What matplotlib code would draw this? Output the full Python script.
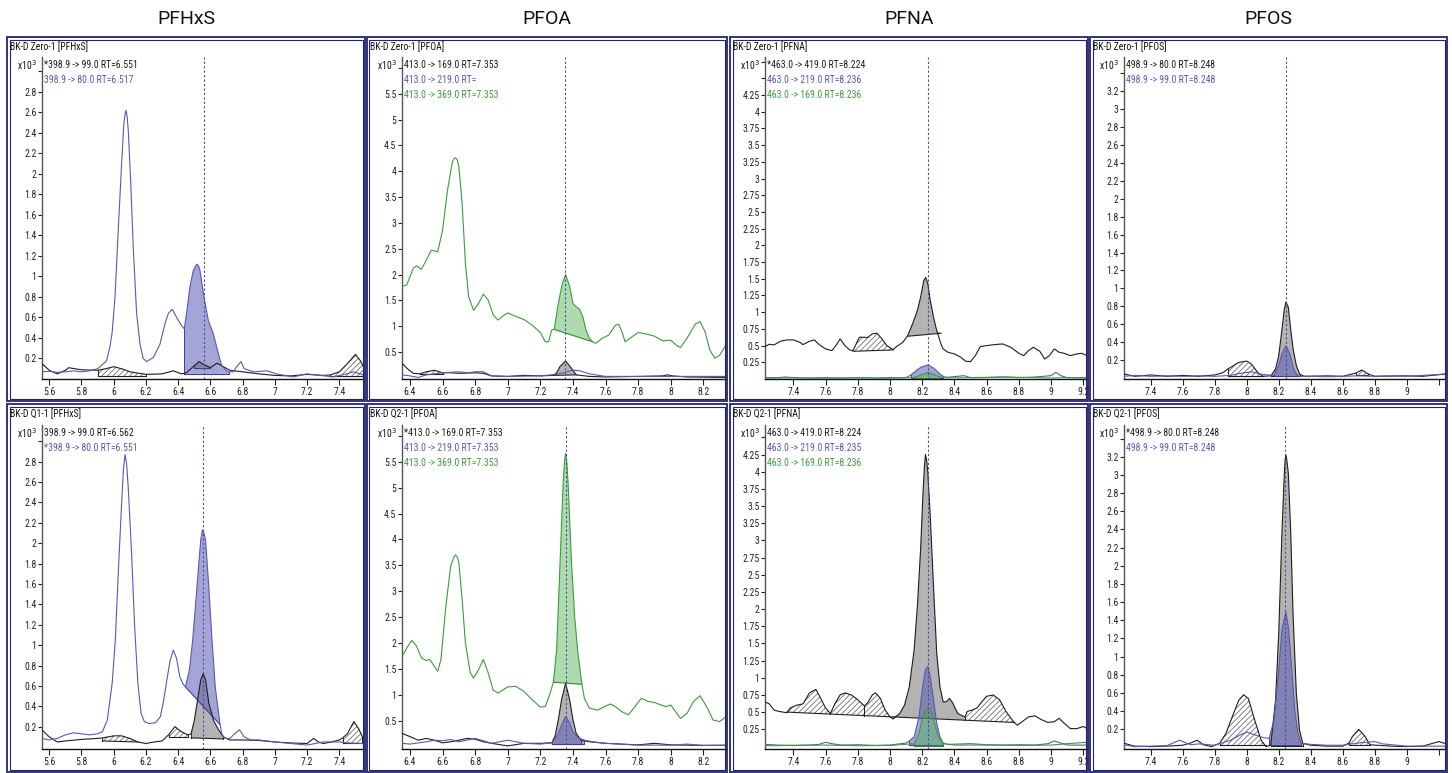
import numpy as np
import matplotlib
matplotlib.use("Agg")
import matplotlib.pyplot as plt
from matplotlib import font_manager
from matplotlib.patches import Rectangle

W, H = 1452, 773
plt.rcParams['hatch.linewidth'] = 0.6


def has_font(name):
    try:
        font_manager.findfont(font_manager.FontProperties(family=name), fallback_to_default=False)
        return True
    except Exception:
        return False


# the instrument software uses a condensed face; take the narrowest one available
if has_font('Liberation Sans Narrow'):
    SMALL, SMALL_SIZE = ['Liberation Sans Narrow', 'DejaVu Sans'], 6.9
elif has_font('Roboto Condensed'):
    SMALL, SMALL_SIZE = ['Roboto Condensed', 'DejaVu Sans'], 7.0
else:
    SMALL, SMALL_SIZE = ['Liberation Sans', 'DejaVu Sans'], 6.4

# ---------------- data (x = min, y = x10^3 counts)
compounds = ["PFHxS", "PFOA", "PFNA", "PFOS"]

# PFHxS, BK-D Zero-1
pfhxs_zero_99_x = [5.555, 5.6, 5.65, 5.7, 5.72, 5.8, 5.9, 5.95, 6.0, 6.05, 6.1, 6.2, 6.3, 6.37, 6.42, 6.45, 6.5, 6.53, 6.56, 6.6, 6.64, 6.67, 6.72, 6.8, 6.9, 7.0, 7.1, 7.2, 7.3, 7.345, 7.4, 7.45, 7.5, 7.53, 7.56]
pfhxs_zero_99_y = [0.15, 0.085, 0.05, 0.085, 0.11, 0.09, 0.085, 0.1, 0.12, 0.1, 0.07, 0.045, 0.05, 0.08, 0.05, 0.06, 0.13, 0.17, 0.14, 0.11, 0.155, 0.13, 0.085, 0.07, 0.05, 0.035, 0.03, 0.045, 0.035, 0.04, 0.07, 0.15, 0.24, 0.18, 0.085]
pfhxs_zero_80_x = [5.555, 5.6, 5.65, 5.7, 5.75, 5.8, 5.85, 5.9, 5.93, 5.956, 5.975, 5.99, 6.008, 6.028, 6.049, 6.063, 6.07, 6.076, 6.083, 6.09, 6.105, 6.121, 6.142, 6.163, 6.183, 6.204, 6.246, 6.287, 6.318, 6.339, 6.364, 6.39, 6.421, 6.438, 6.452, 6.473, 6.494, 6.507, 6.517, 6.527, 6.535, 6.56, 6.587, 6.618, 6.649, 6.67, 6.70, 6.717, 6.742, 6.763, 6.79, 6.81, 6.866, 6.95, 7.01, 7.114, 7.197, 7.28, 7.36, 7.445, 7.487, 7.56]
pfhxs_zero_80_y = [0.07, 0.075, 0.065, 0.07, 0.08, 0.07, 0.08, 0.1, 0.14, 0.18, 0.3, 0.45, 0.8, 1.45, 2.1, 2.49, 2.58, 2.62, 2.56, 2.43, 1.94, 1.29, 0.64, 0.34, 0.2, 0.17, 0.21, 0.34, 0.54, 0.64, 0.68, 0.6, 0.52, 0.49, 0.64, 0.9, 1.06, 1.1, 1.12, 1.1, 1.06, 0.8, 0.57, 0.44, 0.25, 0.13, 0.08, 0.07, 0.07, 0.12, 0.17, 0.1, 0.07, 0.08, 0.05, 0.02, 0.05, 0.035, 0.02, 0.05, 0.07, 0.035]
pfhxs_zero_areas = [("k", 5.9, 6.2, 0.03, 0.03, "hatch"), ("b", 6.438, 6.717, 0.05, 0.05, "fill"),
                    ("k", 6.5, 6.6, 0.11, 0.11, "fill"), ("k", 7.345, 7.56, 0.03, 0.03, "hatch")]

# PFOA, BK-D Zero-1
pfoa_zero_169_x = [6.353, 6.38, 6.42, 6.46, 6.5, 6.55, 6.6, 6.65, 6.7, 6.8, 6.85, 6.9, 7.0, 7.1, 7.2, 7.28, 7.3, 7.32, 7.355, 7.39, 7.42, 7.5, 7.6, 7.8, 7.95, 7.98, 8.01, 8.1, 8.345]
pfoa_zero_169_y = [0.28, 0.19, 0.09, 0.08, 0.12, 0.15, 0.1, 0.1, 0.09, 0.1, 0.09, 0.04, 0.03, 0.05, 0.04, 0.05, 0.1, 0.22, 0.33, 0.19, 0.06, 0.03, 0.02, 0.03, 0.04, 0.06, 0.04, 0.02, 0.01]
pfoa_zero_219_x = [6.353, 6.4, 6.45, 6.5, 6.6, 6.7, 6.75, 6.8, 6.85, 6.9, 7.0, 7.2, 7.3, 7.4, 7.44, 7.5, 7.6, 8.0, 8.345]
pfoa_zero_219_y = [0.06, 0.04, 0.01, 0.06, 0.1, 0.12, 0.1, 0.12, 0.12, 0.04, 0.03, 0.04, 0.07, 0.15, 0.14, 0.08, 0.03, 0.03, 0.03]
pfoa_zero_369_x = [6.353, 6.38, 6.42, 6.44, 6.47, 6.5, 6.53, 6.55, 6.57, 6.6, 6.63, 6.66, 6.67, 6.68, 6.69, 6.7, 6.72, 6.74, 6.76, 6.79, 6.82, 6.85, 6.88, 6.91, 6.94, 6.97, 7.0, 7.05, 7.1, 7.15, 7.2, 7.23, 7.25, 7.27, 7.285, 7.31, 7.335, 7.355, 7.38, 7.4, 7.42, 7.44, 7.46, 7.48, 7.5, 7.52, 7.54, 7.58, 7.62, 7.66, 7.68, 7.7, 7.72, 7.75, 7.8, 7.85, 7.9, 7.95, 8.0, 8.04, 8.06, 8.1, 8.15, 8.18, 8.21, 8.24, 8.27, 8.3, 8.345]
pfoa_zero_369_y = [1.77, 1.8, 2.12, 2.17, 2.1, 2.28, 2.47, 2.46, 2.44, 2.86, 3.63, 4.18, 4.24, 4.26, 4.22, 4.09, 3.38, 2.22, 1.57, 1.31, 1.44, 1.62, 1.51, 1.22, 1.12, 1.2, 1.26, 1.19, 1.13, 1.02, 0.88, 0.7, 0.7, 0.93, 0.94, 1.44, 1.83, 2.0, 1.77, 1.44, 1.38, 1.33, 1.19, 0.93, 0.77, 0.7, 0.67, 0.77, 0.83, 1.02, 1.04, 0.9, 0.7, 0.77, 0.88, 0.85, 0.81, 0.72, 0.73, 0.62, 0.59, 0.77, 1.04, 1.09, 0.9, 0.54, 0.38, 0.44, 0.67]
pfoa_zero_areas = [("k", 6.46, 6.6, 0.08, 0.08, "hatch"), ("k", 7.28, 7.42, 0.05, 0.06, "fill"),
                   ("g", 7.285, 7.52, 0.94, 0.70, "fill")]

# PFNA, BK-D Zero-1
pfna_zero_419_x = [7.224, 7.25, 7.28, 7.32, 7.36, 7.4, 7.44, 7.46, 7.5, 7.53, 7.56, 7.6, 7.64, 7.67, 7.69, 7.72, 7.75, 7.77, 7.81, 7.84, 7.86, 7.89, 7.92, 7.95, 7.98, 8.02, 8.04, 8.08, 8.11, 8.14, 8.17, 8.19, 8.21, 8.222, 8.235, 8.25, 8.27, 8.29, 8.317, 8.33, 8.36, 8.4, 8.44, 8.47, 8.5, 8.53, 8.56, 8.6, 8.65, 8.7, 8.75, 8.8, 8.83, 8.86, 8.89, 8.93, 8.96, 8.99, 9.02, 9.05, 9.08, 9.12, 9.16, 9.19, 9.223]
pfna_zero_419_y = [0.485, 0.52, 0.51, 0.565, 0.585, 0.585, 0.55, 0.515, 0.565, 0.585, 0.515, 0.45, 0.425, 0.52, 0.6, 0.5, 0.435, 0.425, 0.625, 0.625, 0.62, 0.675, 0.685, 0.6, 0.5, 0.44, 0.485, 0.55, 0.65, 0.825, 1.025, 1.225, 1.475, 1.52, 1.425, 1.175, 0.925, 0.725, 0.52, 0.45, 0.4, 0.375, 0.325, 0.265, 0.26, 0.35, 0.485, 0.5, 0.515, 0.525, 0.475, 0.385, 0.35, 0.425, 0.475, 0.415, 0.3, 0.35, 0.45, 0.4, 0.385, 0.35, 0.375, 0.385, 0.35]
pfna_zero_219_x = [7.224, 7.3, 7.35, 7.4, 7.5, 7.6, 7.7, 7.8, 7.9, 8.0, 8.1, 8.13, 8.15, 8.19, 8.235, 8.27, 8.31, 8.33, 8.35, 8.42, 8.46, 8.5, 8.6, 8.7, 8.8, 8.9, 9.0, 9.03, 9.06, 9.1, 9.223]
pfna_zero_219_y = [0.02, 0.02, 0.03, 0.02, 0.015, 0.02, 0.015, 0.02, 0.015, 0.02, 0.02, 0.06, 0.1, 0.175, 0.21, 0.165, 0.075, 0.04, 0.025, 0.04, 0.05, 0.02, 0.02, 0.03, 0.02, 0.03, 0.05, 0.1, 0.05, 0.02, 0.02]
pfna_zero_169_x = [7.224, 7.4, 7.6, 7.8, 8.0, 8.15, 8.19, 8.236, 8.27, 8.31, 8.35, 8.5, 8.7, 8.9, 9.0, 9.1, 9.223]
pfna_zero_169_y = [0.01, 0.015, 0.01, 0.015, 0.01, 0.02, 0.06, 0.1, 0.07, 0.03, 0.015, 0.02, 0.03, 0.02, 0.015, 0.02, 0.015]
pfna_zero_areas = [("k", 7.77, 8.02, 0.415, 0.435, "hatch"), ("k", 8.11, 8.317, 0.64, 0.685, "fill"),
                   ("b", 8.13, 8.33, 0.02, 0.02, "fill"), ("g", 8.15, 8.31, 0.01, 0.01, "fill")]

# PFOS, BK-D Zero-1
pfos_zero_80_x = [7.235, 7.3, 7.4, 7.5, 7.6, 7.7, 7.8, 7.85, 7.88, 7.9, 7.95, 8.0, 8.03, 8.07, 8.1, 8.15, 8.18, 8.2, 8.22, 8.235, 8.245, 8.26, 8.275, 8.29, 8.31, 8.33, 8.36, 8.5, 8.6, 8.68, 8.72, 8.76, 8.8, 9.0, 9.1, 9.24]
pfos_zero_80_y = [0.045, 0.02, 0.035, 0.02, 0.03, 0.02, 0.035, 0.06, 0.1, 0.12, 0.175, 0.19, 0.155, 0.06, 0.02, 0.025, 0.1, 0.25, 0.54, 0.77, 0.85, 0.79, 0.54, 0.32, 0.14, 0.045, 0.02, 0.025, 0.02, 0.055, 0.09, 0.045, 0.02, 0.025, 0.02, 0.045]
pfos_zero_99_x = [7.235, 7.3, 7.4, 7.5, 7.6, 7.7, 7.8, 7.9, 7.95, 8.03, 8.1, 8.17, 8.2, 8.22, 8.245, 8.27, 8.29, 8.31, 8.33, 8.4, 8.5, 8.6, 8.7, 8.8, 8.9, 9.0, 9.1, 9.24]
pfos_zero_99_y = [0.02, 0.03, 0.02, 0.025, 0.02, 0.025, 0.02, 0.03, 0.05, 0.07, 0.04, 0.03, 0.14, 0.27, 0.36, 0.27, 0.12, 0.045, 0.02, 0.02, 0.015, 0.02, 0.025, 0.02, 0.025, 0.02, 0.03, 0.045]
pfos_zero_areas = [("k", 7.88, 8.1, 0.02, 0.02, "hatch"), ("k", 8.15, 8.33, 0.025, 0.025, "fill"),
                   ("b", 8.17, 8.33, 0.02, 0.02, "fill"), ("k", 8.68, 8.76, 0.03, 0.03, "hatch")]

# PFHxS, BK-D Q1-1
pfhxs_q1_99_x = [5.553, 5.6, 5.65, 5.7, 5.8, 5.9, 5.93, 6.0, 6.05, 6.1, 6.15, 6.2, 6.25, 6.3, 6.34, 6.38, 6.42, 6.46, 6.48, 6.5, 6.52, 6.54, 6.555, 6.57, 6.59, 6.62, 6.65, 6.68, 6.72, 6.8, 6.9, 7.0, 7.1, 7.2, 7.24, 7.27, 7.3, 7.35, 7.4, 7.42, 7.45, 7.49, 7.52, 7.543]
pfhxs_q1_99_y = [0.17, 0.1, 0.05, 0.06, 0.075, 0.085, 0.09, 0.11, 0.11, 0.085, 0.05, 0.035, 0.05, 0.06, 0.12, 0.2, 0.15, 0.12, 0.13, 0.26, 0.46, 0.66, 0.72, 0.66, 0.43, 0.26, 0.17, 0.1, 0.07, 0.07, 0.065, 0.05, 0.04, 0.035, 0.085, 0.05, 0.035, 0.05, 0.07, 0.09, 0.13, 0.25, 0.18, 0.1]
pfhxs_q1_80_x = [5.553, 5.6, 5.65, 5.7, 5.75, 5.8, 5.85, 5.9, 5.93, 5.96, 5.99, 6.01, 6.03, 6.05, 6.06, 6.07, 6.08, 6.09, 6.11, 6.13, 6.15, 6.17, 6.19, 6.22, 6.26, 6.29, 6.31, 6.33, 6.35, 6.37, 6.39, 6.41, 6.43, 6.445, 6.47, 6.49, 6.51, 6.53, 6.54, 6.55, 6.56, 6.57, 6.59, 6.61, 6.63, 6.66, 6.67, 6.69, 6.72, 6.75, 6.78, 6.81, 6.85, 6.9, 7.0, 7.1, 7.2, 7.3, 7.4, 7.45, 7.543]
pfhxs_q1_80_y = [0.085, 0.07, 0.085, 0.12, 0.14, 0.13, 0.12, 0.13, 0.15, 0.265, 0.62, 1.05, 1.77, 2.42, 2.72, 2.87, 2.78, 2.55, 1.93, 1.18, 0.62, 0.33, 0.25, 0.23, 0.24, 0.3, 0.46, 0.66, 0.85, 0.95, 0.87, 0.69, 0.62, 0.59, 0.76, 1.05, 1.44, 1.84, 2.03, 2.13, 2.1, 2.03, 1.57, 1.05, 0.59, 0.22, 0.13, 0.085, 0.085, 0.13, 0.17, 0.1, 0.07, 0.07, 0.05, 0.035, 0.02, 0.05, 0.05, 0.04, 0.035]
pfhxs_q1_areas = [("k", 5.93, 6.15, 0.06, 0.05, "hatch"), ("k", 6.34, 6.46, 0.1, 0.1, "hatch"),
                  ("k", 6.48, 6.68, 0.09, 0.08, "fill"), ("b", 6.445, 6.66, 0.59, 0.22, "fill"),
                  ("k", 7.42, 7.543, 0.04, 0.04, "hatch")]

# PFOA, BK-D Q2-1
pfoa_q2_169_x = [6.353, 6.4, 6.45, 6.5, 6.55, 6.6, 6.65, 6.7, 6.75, 6.8, 6.85, 6.9, 7.0, 7.1, 7.2, 7.27, 7.29, 7.31, 7.33, 7.355, 7.38, 7.4, 7.42, 7.45, 7.5, 7.6, 7.7, 7.8, 7.9, 7.95, 8.0, 8.2, 8.356]
pfoa_q2_169_y = [0.25, 0.19, 0.12, 0.155, 0.12, 0.07, 0.09, 0.12, 0.155, 0.14, 0.09, 0.06, 0.01, 0.06, 0.06, 0.07, 0.2, 0.51, 0.9, 1.22, 0.9, 0.51, 0.25, 0.12, 0.09, 0.06, 0.045, 0.03, 0.06, 0.045, 0.03, 0.02, 0.025]
pfoa_q2_219_x = [6.353, 6.4, 6.5, 6.55, 6.6, 6.65, 6.7, 6.8, 6.85, 6.9, 6.95, 7.0, 7.05, 7.1, 7.2, 7.27, 7.3, 7.33, 7.355, 7.38, 7.4, 7.43, 7.47, 7.52, 7.6, 7.8, 8.0, 8.1, 8.2, 8.356]
pfoa_q2_219_y = [0.06, 0.045, 0.09, 0.12, 0.11, 0.135, 0.09, 0.155, 0.11, 0.06, 0.09, 0.12, 0.09, 0.06, 0.045, 0.07, 0.19, 0.41, 0.58, 0.45, 0.28, 0.17, 0.12, 0.09, 0.06, 0.025, 0.025, 0.045, 0.02, 0.02]
pfoa_q2_369_x = [6.353, 6.38, 6.41, 6.44, 6.47, 6.5, 6.52, 6.55, 6.57, 6.59, 6.62, 6.65, 6.67, 6.68, 6.69, 6.7, 6.72, 6.74, 6.77, 6.79, 6.82, 6.85, 6.88, 6.91, 6.94, 6.97, 7.0, 7.05, 7.1, 7.15, 7.2, 7.23, 7.26, 7.28, 7.3, 7.32, 7.34, 7.348, 7.355, 7.362, 7.37, 7.39, 7.41, 7.43, 7.455, 7.47, 7.5, 7.55, 7.6, 7.63, 7.66, 7.7, 7.74, 7.78, 7.82, 7.86, 7.9, 7.94, 7.97, 8.0, 8.03, 8.06, 8.1, 8.14, 8.18, 8.22, 8.26, 8.3, 8.356]
pfoa_q2_369_y = [1.74, 1.9, 2.05, 1.94, 1.71, 1.66, 1.68, 1.55, 1.45, 1.68, 2.71, 3.49, 3.66, 3.7, 3.66, 3.55, 2.84, 2.0, 1.42, 1.32, 1.48, 1.68, 1.42, 1.09, 1.03, 1.09, 1.15, 1.16, 1.06, 0.9, 0.76, 0.77, 1.03, 1.24, 1.87, 3.49, 5.1, 5.5, 5.66, 5.5, 5.1, 3.62, 2.52, 1.81, 1.2, 0.93, 0.74, 0.7, 0.78, 0.82, 0.77, 0.67, 0.61, 0.77, 0.93, 0.87, 0.85, 0.8, 0.77, 0.8, 0.67, 0.54, 0.64, 0.87, 0.98, 0.77, 0.51, 0.48, 0.61]
pfoa_q2_areas = [("k", 7.27, 7.45, 0.05, 0.05, "fill"), ("b", 7.27, 7.47, 0.04, 0.04, "fill"),
                 ("g", 7.28, 7.455, 1.24, 1.2, "fill")]

# PFNA, BK-D Q2-1
pfna_q2_419_x = [7.224, 7.25, 7.28, 7.31, 7.36, 7.38, 7.42, 7.46, 7.5, 7.54, 7.57, 7.6, 7.63, 7.66, 7.69, 7.72, 7.76, 7.8, 7.84, 7.86, 7.89, 7.91, 7.94, 7.97, 8.0, 8.02, 8.06, 8.09, 8.12, 8.15, 8.17, 8.19, 8.205, 8.213, 8.22, 8.228, 8.235, 8.25, 8.27, 8.29, 8.31, 8.33, 8.35, 8.37, 8.39, 8.42, 8.465, 8.48, 8.51, 8.54, 8.57, 8.6, 8.64, 8.68, 8.72, 8.77, 8.79, 8.82, 8.86, 8.9, 8.94, 8.98, 9.02, 9.05, 9.08, 9.12, 9.16, 9.2, 9.223]
pfna_q2_419_y = [0.65, 0.62, 0.53, 0.51, 0.49, 0.56, 0.6, 0.62, 0.78, 0.83, 0.7, 0.56, 0.48, 0.63, 0.75, 0.78, 0.75, 0.68, 0.59, 0.63, 0.75, 0.78, 0.7, 0.53, 0.43, 0.4, 0.48, 0.6, 0.87, 1.41, 2.04, 2.87, 3.69, 4.05, 4.25, 4.16, 3.98, 3.35, 2.33, 1.36, 0.87, 0.65, 0.65, 0.7, 0.63, 0.48, 0.43, 0.51, 0.53, 0.56, 0.65, 0.73, 0.75, 0.68, 0.51, 0.35, 0.31, 0.36, 0.43, 0.445, 0.39, 0.35, 0.36, 0.41, 0.34, 0.26, 0.26, 0.29, 0.26]
pfna_q2_219_x = [7.224, 7.3, 7.4, 7.5, 7.56, 7.6, 7.64, 7.7, 7.8, 7.9, 8.0, 8.1, 8.12, 8.15, 8.18, 8.2, 8.22, 8.235, 8.25, 8.27, 8.29, 8.31, 8.33, 8.36, 8.5, 8.6, 8.7, 8.8, 8.9, 8.98, 9.02, 9.06, 9.1, 9.223]
pfna_q2_219_y = [0.03, 0.02, 0.015, 0.02, 0.03, 0.06, 0.04, 0.02, 0.025, 0.015, 0.02, 0.05, 0.08, 0.14, 0.43, 0.82, 1.12, 1.16, 1.02, 0.68, 0.34, 0.14, 0.05, 0.03, 0.04, 0.025, 0.02, 0.025, 0.02, 0.04, 0.08, 0.05, 0.02, 0.02]
pfna_q2_169_x = [7.224, 7.4, 7.6, 7.8, 8.0, 8.15, 8.18, 8.2, 8.22, 8.236, 8.26, 8.28, 8.3, 8.33, 8.4, 8.6, 8.8, 9.0, 9.1, 9.223]
pfna_q2_169_y = [0.01, 0.015, 0.02, 0.01, 0.015, 0.04, 0.19, 0.39, 0.53, 0.56, 0.48, 0.31, 0.14, 0.04, 0.02, 0.02, 0.015, 0.02, 0.04, 0.06]
pfna_q2_areas = [("k", 7.36, 7.63, 0.5, 0.471, "hatch"), ("k", 7.63, 7.84, 0.471, 0.449, "hatch"),
                 ("k", 7.84, 8.02, 0.449, 0.43, "hatch"), ("k", 8.02, 8.465, 0.43, 0.382, "fill"),
                 ("k", 8.465, 8.77, 0.382, 0.35, "hatch"), ("b", 8.12, 8.33, 0.02, 0.02, "fill"),
                 ("g", 8.15, 8.33, 0.01, 0.01, "fill")]

# PFOS, BK-D Q2-1
pfos_q2_80_x = [7.235, 7.3, 7.4, 7.5, 7.6, 7.65, 7.69, 7.73, 7.78, 7.83, 7.87, 7.91, 7.95, 7.98, 8.01, 8.05, 8.09, 8.12, 8.15, 8.18, 8.2, 8.22, 8.235, 8.24, 8.245, 8.25, 8.26, 8.275, 8.29, 8.31, 8.33, 8.35, 8.4, 8.5, 8.6, 8.64, 8.66, 8.7, 8.74, 8.77, 8.9, 9.0, 9.1, 9.2, 9.24]
pfos_q2_80_y = [0.045, 0.015, 0.01, 0.015, 0.025, 0.05, 0.08, 0.03, 0.01, 0.045, 0.155, 0.34, 0.52, 0.58, 0.54, 0.3, 0.08, 0.01, 0.025, 0.52, 1.26, 2.36, 3.02, 3.17, 3.22, 3.17, 3.02, 2.36, 1.44, 0.6, 0.19, 0.045, 0.025, 0.015, 0.015, 0.05, 0.12, 0.2, 0.12, 0.03, 0.015, 0.01, 0.015, 0.065, 0.045]
pfos_q2_99_x = [7.235, 7.3, 7.4, 7.5, 7.58, 7.65, 7.7, 7.8, 7.9, 7.96, 8.0, 8.05, 8.1, 8.14, 8.17, 8.2, 8.22, 8.245, 8.26, 8.28, 8.3, 8.32, 8.34, 8.4, 8.5, 8.6, 8.7, 8.8, 8.85, 9.0, 9.24]
pfos_q2_99_y = [0.03, 0.01, 0.015, 0.02, 0.08, 0.03, 0.04, 0.025, 0.08, 0.14, 0.17, 0.14, 0.11, 0.1, 0.3, 0.85, 1.3, 1.49, 1.33, 0.89, 0.41, 0.155, 0.045, 0.035, 0.025, 0.025, 0.05, 0.065, 0.04, 0.015, 0.015]
pfos_q2_areas = [("k", 7.83, 8.12, 0.03, 0.03, "hatch"), ("k", 8.15, 8.35, 0.02, 0.02, "fill"),
                 ("b", 8.14, 8.34, 0.03, 0.03, "fill"), ("k", 8.64, 8.77, 0.03, 0.03, "hatch")]

# axis ticks per column
x_ticks = [[5.6, 5.8, 6.0, 6.2, 6.4, 6.6, 6.8, 7.0, 7.2, 7.4],
           [6.4, 6.6, 6.8, 7.0, 7.2, 7.4, 7.6, 7.8, 8.0, 8.2],
           [7.4, 7.6, 7.8, 8.0, 8.2, 8.4, 8.6, 8.8, 9.0, 9.2],
           [7.4, 7.6, 7.8, 8.0, 8.2, 8.4, 8.6, 8.8, 9.0, 9.2]]
x_labels = [["5.6", "5.8", "6", "6.2", "6.4", "6.6", "6.8", "7", "7.2", "7.4"],
            ["6.4", "6.6", "6.8", "7", "7.2", "7.4", "7.6", "7.8", "8", "8.2"],
            ["7.4", "7.6", "7.8", "8", "8.2", "8.4", "8.6", "8.8", "9", "9.2"],
            ["7.4", "7.6", "7.8", "8", "8.2", "8.4", "8.6", "8.8", "9", ""]]
x_limits = [(5.555, 7.553), (6.351, 8.339), (7.224, 9.223), (7.233, 9.239)]

COLORS = {"k": "#1e1e1e", "b": "#5959b5", "g": "#3c9c3c"}

panels = [
    dict(row=0, col=0, header="BK-D Zero-1 [PFHxS]", ylim=(0.0, 3.14), ystep=0.2, ymax_tick=3.0, rt=6.56,
         traces={"k": (pfhxs_zero_99_x, pfhxs_zero_99_y), "b": (pfhxs_zero_80_x, pfhxs_zero_80_y)},
         legend=[("k", "*398.9 -> 99.0 RT=6.551"), ("b", "398.9 -> 80.0 RT=6.517")], areas=pfhxs_zero_areas),
    dict(row=0, col=1, header="BK-D Zero-1 [PFOA]", ylim=(-0.02, 6.21), ystep=0.5, ymax_tick=6.0, rt=7.353,
         traces={"k": (pfoa_zero_169_x, pfoa_zero_169_y), "b": (pfoa_zero_219_x, pfoa_zero_219_y),
                 "g": (pfoa_zero_369_x, pfoa_zero_369_y)},
         legend=[("k", "413.0 -> 169.0 RT=7.353"), ("b", "413.0 -> 219.0 RT="), ("g", "413.0 -> 369.0 RT=7.353")],
         areas=pfoa_zero_areas),
    dict(row=0, col=2, header="BK-D Zero-1 [PFNA]", ylim=(0.0, 4.82), ystep=0.25, ymax_tick=4.75, rt=8.233,
         traces={"k": (pfna_zero_419_x, pfna_zero_419_y), "b": (pfna_zero_219_x, pfna_zero_219_y),
                 "g": (pfna_zero_169_x, pfna_zero_169_y)},
         legend=[("k", "*463.0 -> 419.0 RT=8.224"), ("b", "463.0 -> 219.0 RT=8.236"), ("g", "463.0 -> 169.0 RT=8.236")],
         areas=pfna_zero_areas),
    dict(row=0, col=3, header="BK-D Zero-1 [PFOS]", ylim=(-0.01, 3.58), ystep=0.2, ymax_tick=3.4, rt=8.245,
         traces={"k": (pfos_zero_80_x, pfos_zero_80_y), "b": (pfos_zero_99_x, pfos_zero_99_y)},
         legend=[("k", "498.9 -> 80.0 RT=8.248"), ("b", "498.9 -> 99.0 RT=8.248")], areas=pfos_zero_areas),
    dict(row=1, col=0, header="BK-D Q1-1 [PFHxS]", ylim=(-0.014, 3.16), ystep=0.2, ymax_tick=3.0, rt=6.553,
         traces={"k": (pfhxs_q1_99_x, pfhxs_q1_99_y), "b": (pfhxs_q1_80_x, pfhxs_q1_80_y)},
         legend=[("k", "398.9 -> 99.0 RT=6.562"), ("b", "*398.9 -> 80.0 RT=6.551")], areas=pfhxs_q1_areas),
    dict(row=1, col=1, header="BK-D Q2-1 [PFOA]", ylim=(-0.04, 6.21), ystep=0.5, ymax_tick=6.0, rt=7.36,
         traces={"k": (pfoa_q2_169_x, pfoa_q2_169_y), "b": (pfoa_q2_219_x, pfoa_q2_219_y),
                 "g": (pfoa_q2_369_x, pfoa_q2_369_y)},
         legend=[("k", "*413.0 -> 169.0 RT=7.353"), ("b", "413.0 -> 219.0 RT=7.353"), ("g", "413.0 -> 369.0 RT=7.353")],
         areas=pfoa_q2_areas),
    dict(row=1, col=2, header="BK-D Q2-1 [PFNA]", ylim=(-0.03, 4.68), ystep=0.25, ymax_tick=4.5, rt=8.234,
         traces={"k": (pfna_q2_419_x, pfna_q2_419_y), "b": (pfna_q2_219_x, pfna_q2_219_y),
                 "g": (pfna_q2_169_x, pfna_q2_169_y)},
         legend=[("k", "463.0 -> 419.0 RT=8.224"), ("b", "463.0 -> 219.0 RT=8.235"), ("g", "463.0 -> 169.0 RT=8.236")],
         areas=pfna_q2_areas),
    dict(row=1, col=3, header="BK-D Q2-1 [PFOS]", ylim=(-0.011, 3.55), ystep=0.2, ymax_tick=3.4, rt=8.24,
         traces={"k": (pfos_q2_80_x, pfos_q2_80_y), "b": (pfos_q2_99_x, pfos_q2_99_y)},
         legend=[("k", "*498.9 -> 80.0 RT=8.248"), ("b", "498.9 -> 99.0 RT=8.248")], areas=pfos_q2_areas),
]

# ---------------- layout in pixels
frame_cols = [(7, 365), (367, 727), (730, 1088), (1090, 1447)]
frame_rows = [(37, 401), (404, 772)]
axes_cols = [(42, 364), (402, 726), (765, 1087), (1124, 1445)]
axes_rows = [(57, 379), (425, 748.5)]


def fx(px):
    return px / W


def fy(py):
    return 1 - py / H


def draw_area(ax, x, y, x0, x1, b0, b1, kind, key):
    x = np.asarray(x, float)
    y = np.asarray(y, float)
    m = (x >= x0 - 1e-9) & (x <= x1 + 1e-9)
    xs, ys = x[m], y[m]
    base = b0 + (b1 - b0) * (xs - x0) / (x1 - x0)
    top = np.maximum(ys, base)
    if kind == "hatch":
        ax.fill_between(xs, base, top, facecolor="white", edgecolor="#707070",
                        hatch="//////", linewidth=0, zorder=1)
        edge, z = "#222222", 1.2
    elif key == "k":
        ax.fill_between(xs, base, top, facecolor="#b3b3b3", linewidth=0, zorder=1.5)
        edge, z = "#222222", 1.6
    elif key == "b":
        ax.fill_between(xs, base, top, facecolor="#5a5ab5", alpha=0.55, linewidth=0, zorder=2)
        edge, z = "#3c3c9a", 2.1
    else:
        ax.fill_between(xs, base, top, facecolor="#4caf50", alpha=0.45, linewidth=0, zorder=2.2)
        edge, z = "#2e8b2e", 2.3
    ax.plot([x0, x1], [b0, b1], color=edge, lw=0.8, zorder=z)
    ax.plot([xs[0], xs[0]], [base[0], top[0]], color=edge, lw=0.7, zorder=z)
    ax.plot([xs[-1], xs[-1]], [base[-1], top[-1]], color=edge, lw=0.7, zorder=z)


fig = plt.figure(figsize=(W / 100, H / 100), dpi=100)

# compound titles
for c, name in enumerate(compounds):
    l, r = frame_cols[c]
    fig.text(fx((l + r) / 2), fy(19), name, ha="center", va="center",
             fontsize=14, family=["Roboto", "DejaVu Sans"], color="#111111")

# double navy frames round each panel
for (l, r) in frame_cols:
    for (t, b) in frame_rows:
        for inset, lw in [(0, 1.3), (2.5, 0.8)]:
            fig.add_artist(Rectangle((fx(l + inset), fy(b - inset)), fx(r - l - 2 * inset),
                                     (b - t - 2 * inset) / H, transform=fig.transFigure,
                                     fill=False, edgecolor="#23236e", lw=lw))

zorders = {"k": 3.0, "b": 3.1, "g": 3.2}
for p in panels:
    r, c = p["row"], p["col"]
    al, ar = axes_cols[c]
    at, ab = axes_rows[r]
    ax = fig.add_axes([fx(al), fy(ab), fx(ar - al), (ab - at) / H])
    ax.set_facecolor("none")
    ax.set_xlim(*x_limits[c])
    ax.set_ylim(*p["ylim"])

    for (key, x0, x1, b0, b1, kind) in p["areas"]:
        xv, yv = p["traces"][key]
        draw_area(ax, xv, yv, x0, x1, b0, b1, kind, key)
    for key, (xv, yv) in p["traces"].items():
        ax.plot(xv, yv, color=COLORS[key], lw=0.8, zorder=zorders[key])

    ax.axvline(p["rt"], color="#4b4b9b", lw=0.8, ls=(0, (2, 2)), zorder=4)

    # ticks
    n = int(round(p["ymax_tick"] / p["ystep"]))
    yt = [p["ystep"] * i for i in range(1, n + 1)]
    ylabs = ["%g" % v for v in yt[:-1]] + [""]
    if p["ymax_tick"] == 4.75:
        ylabs[-2] = ""
    ax.set_yticks(yt)
    ax.set_yticklabels(ylabs)
    ax.set_xticks(x_ticks[c])
    ax.set_xticklabels(x_labels[c])
    ax.tick_params(axis="y", direction="out", length=3, width=0.8, pad=1, labelsize=SMALL_SIZE, colors="#222222")
    ax.tick_params(axis="x", direction="out", length=4, width=0.8, pad=2, labelsize=SMALL_SIZE, colors="#222222")
    for lab in ax.get_xticklabels() + ax.get_yticklabels():
        lab.set_family(SMALL)
    for s in ["top", "right"]:
        ax.spines[s].set_visible(False)
    ax.spines["left"].set_color("#555555")
    ax.spines["left"].set_linewidth(1.0)
    ax.spines["bottom"].set_color("#111111")
    ax.spines["bottom"].set_linewidth(1.0)

    # panel header, scale and transition legend
    fl, _ = frame_cols[c]
    ft, _ = frame_rows[r]
    fig.text(fx(fl + 3), fy(ft + 10), p["header"], ha="left", va="center",
             fontsize=SMALL_SIZE, family=SMALL, color="#111111")
    fig.text(fx(al - 5), fy(at + 8), r"x10$^{3}$", ha="right", va="center",
             fontsize=SMALL_SIZE, family=SMALL, color="#111111")
    for i, (key, txt) in enumerate(p["legend"]):
        fig.text(fx(al + 2), fy(at + 8 + 15 * i), txt, ha="left", va="center",
                 fontsize=SMALL_SIZE, family=SMALL, color=COLORS[key])

fig.savefig("out.png", dpi=100)
